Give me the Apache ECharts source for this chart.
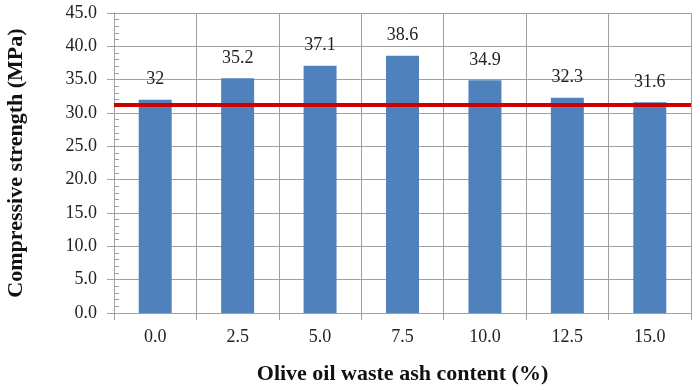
<!DOCTYPE html>
<html>
<head>
<meta charset="utf-8">
<script src="https://cdn.jsdelivr.net/npm/echarts@6/dist/echarts.min.js"></script>
<style>
    html, body { margin: 0; padding: 0; background: #fff; }
    #chart { width: 700px; height: 390px; }
</style>
</head>
<body>
<div id="chart"></div>
<script>
// ash content categories (%)
var categories = ['0.0', '2.5', '5.0', '7.5', '10.0', '12.5', '15.0'];
// compressive strength (MPa)
var strength = [32, 35.2, 37.1, 38.6, 34.9, 32.3, 31.6];
// reference line (MPa)
var referenceLine = [31.2];

var serif = '"Liberation Serif", "DejaVu Serif", serif';
var gridColor = '#a0a0a0';

var chart = echarts.init(document.getElementById('chart'));
chart.setOption({
    animation: false,
    textStyle: { fontFamily: serif },
    grid: {
        left: 114,
        right: 9,
        top: 13,
        bottom: 77,
        containLabel: false,
        outerBoundsMode: 'none'
    },
    xAxis: {
        type: 'category',
        data: categories,
        boundaryGap: true,
        name: 'Olive oil waste ash content (%)',
        nameLocation: 'middle',
        nameGap: 50,
        nameTextStyle: { color: '#111', fontSize: 22, fontWeight: 'bold', fontFamily: serif },
        axisLine: { lineStyle: { color: gridColor, width: 1 } },
        axisTick: { show: true, length: 7, lineStyle: { color: gridColor } },
        axisLabel: { color: '#222', fontSize: 18, margin: 15, fontFamily: serif },
        splitLine: { show: true, lineStyle: { color: gridColor, width: 1 } }
    },
    yAxis: [
        {
            type: 'value',
            min: 0,
            max: 45,
            interval: 5,
            name: 'Compressive strength (MPa)',
            nameLocation: 'middle',
            nameGap: 87,
            nameTextStyle: { color: '#111', fontSize: 22, fontWeight: 'bold', fontFamily: serif },
            axisLine: { show: true, lineStyle: { color: gridColor, width: 1 } },
            axisTick: { show: true, length: 7, lineStyle: { color: gridColor } },
            axisLabel: {
                color: '#222',
                fontSize: 18,
                margin: 17,
                fontFamily: serif,
                formatter: function (v) { return v.toFixed(1); }
            },
            splitLine: { show: true, lineStyle: { color: gridColor, width: 1 } }
        },
        {
            type: 'value',
            min: 0,
            max: 45,
            interval: 5,
            position: 'left',
            axisLine: { show: false },
            axisLabel: { show: false },
            axisTick: { show: false, inside: true },
            minorTick: { show: true, splitNumber: 5, length: 5, lineStyle: { color: gridColor } },
            splitLine: { show: false }
        }
    ],
    series: [
        {
            type: 'bar',
            data: strength,
            barWidth: '40%',
            itemStyle: { color: '#4f81bd' },
            label: {
                show: true,
                position: 'top',
                distance: 11,
                color: '#222',
                fontSize: 18,
                fontFamily: serif
            },
            markLine: {
                symbol: 'none',
                silent: true,
                label: { show: false },
                lineStyle: { color: '#cc0000', width: 4, type: 'solid' },
                data: [{ yAxis: referenceLine[0] }]
            }
        }
    ]
});
</script>
</body>
</html>
